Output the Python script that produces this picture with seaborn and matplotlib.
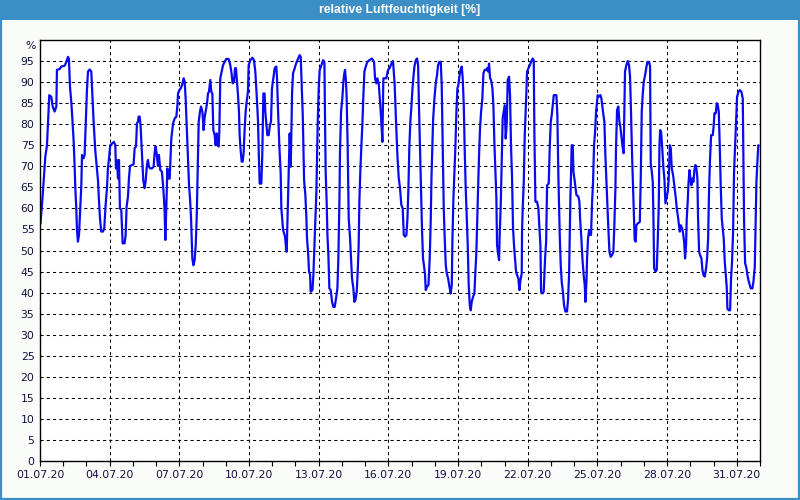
import numpy as np
import pandas as pd
import matplotlib
matplotlib.use("Agg")
import matplotlib.pyplot as plt
import matplotlib.dates as mdates
from matplotlib.patches import Rectangle
import seaborn as sns

# hours since 01.07.2020 00:00 and relative humidity [%]
hours = [
    0.5, 2.8, 4.1, 5.5, 7.2, 8.3, 9.6, 11.7, 13.1, 15.1, 16.9, 17.5, 20.3, 22.0, 25.5, 27.2, 28.9, 29.9,
    31.0, 32.4, 33.4, 34.8, 35.8, 36.5, 37.5, 38.2, 39.2, 40.3, 41.7, 42.7, 43.4, 45.1, 46.1, 47.2,
    48.5, 49.6, 51.3, 53.0, 54.1, 55.4, 57.2, 58.5, 59.9, 60.9, 62.0, 63.3, 65.1, 66.4, 67.8, 69.2,
    70.2, 71.3, 72.6, 74.4, 76.4, 77.8, 78.5, 79.5, 80.6, 81.6, 82.6, 84.0, 85.4, 87.4, 88.5, 89.5,
    90.9, 91.9, 93.0, 95.4, 96.7, 97.8, 99.2, 100.2, 101.2, 101.9, 103.0, 104.0, 105.4, 106.7, 108.1,
    109.1, 110.5, 111.5, 112.6, 113.9, 115.7, 117.4, 118.4, 119.5, 120.5, 121.9, 122.9, 124.3, 126.0,
    127.0,
    128.2, 128.9, 129.5, 130.6, 131.6, 132.6, 134.0, 135.7, 137.5, 139.2, 140.9, 142.0, 142.6, 144.0,
    145.4, 146.8, 148.5, 149.5, 150.5, 151.6, 153.0, 154.0, 155.0, 156.1, 156.7, 157.4, 158.5, 159.8,
    160.9, 161.9, 162.6, 163.3, 164.0, 165.3, 166.4, 167.8, 169.1, 170.2, 171.2, 172.6, 173.6, 174.6,
    176.0, 177.0, 178.1, 179.1, 180.5, 181.5, 182.6, 183.6, 184.6, 185.3, 186.3, 187.7, 189.1, 190.8,
    192.5, 194.9, 196.3, 197.7, 199.1, 200.5, 201.5, 202.5, 203.6, 204.6, 205.6, 206.3, 207.3, 208.4,
    209.4, 210.4, 211.5, 212.5, 213.5, 214.9, 215.6, 217.3, 219.4, 221.1, 222.5, 223.9, 225.3, 226.3,
    227.0, 228.7, 229.7, 230.8, 232.1, 232.8, 233.9, 234.9, 236.3, 237.6, 238.7, 239.7, 241.1, 242.5,
    244.2, 244.9, 245.9, 247.3, 248.7, 249.4, 250.4,
    251.2, 252.2, 253.2, 254.3, 254.9, 256.0, 257.0, 258.0, 259.1, 259.8, 260.5, 261.5, 263.2, 264.6,
    266.7, 268.4, 269.4, 270.4, 271.5, 272.2, 272.9, 274.2, 275.3, 275.9, 277.0, 278.0, 279.1, 279.7,
    281.5, 282.5, 283.5, 284.6, 285.6, 286.3, 287.0, 288.0, 289.0, 290.8, 292.5, 293.9, 294.5, 295.2,
    296.3, 297.0, 298.0, 299.0, 300.4, 301.8, 303.1, 304.5, 305.9, 307.3, 308.3, 309.4, 310.0, 311.1,
    312.4, 313.5, 314.2, 315.2, 316.2, 316.9, 318.0, 319.0, 320.4, 321.4, 322.4, 323.8, 324.8, 325.9,
    327.3, 328.3, 329.3, 330.0, 331.0, 332.1, 333.1, 334.1, 335.2, 336.6, 338.3, 340.3, 343.1, 345.2,
    346.2, 347.6, 348.6, 350.0, 351.4, 352.7, 353.8, 354.8, 356.2, 357.9, 359.6, 361.3, 363.1, 364.8,
    366.5, 367.9, 369.3, 370.6, 372.0, 373.4,
    374.8, 375.9, 377.3, 378.6, 379.7, 380.7, 381.7, 382.8, 383.8, 384.8, 385.9, 386.9, 388.3, 389.6,
    390.7, 391.7, 392.7, 393.8, 394.8, 395.8, 396.9, 397.9, 398.6, 400.0, 401.4, 402.7, 403.8, 404.5,
    405.5, 406.2, 407.6, 408.9, 410.3, 411.3, 412.7, 414.1, 415.1, 416.2, 417.2, 418.2, 419.3, 420.3,
    421.7, 423.1, 424.4, 425.5, 426.2, 427.2, 428.2, 429.2, 430.3, 431.3, 432.3, 433.4, 434.4, 435.8,
    436.8, 437.9, 438.9, 439.9, 441.0, 442.0, 443.0, 444.1, 445.1, 446.1, 447.5, 448.9, 449.9, 450.9,
    452.0, 452.7, 453.7, 454.7, 455.8, 457.1, 458.2, 459.5, 460.9, 462.0, 463.0, 464.0, 465.1, 466.1,
    467.5, 468.5, 469.5, 470.6, 471.6, 472.3, 473.3, 474.4, 475.0, 476.1, 477.1, 478.1, 479.2, 480.2,
    481.2, 482.3, 483.3, 484.7, 485.7, 486.7, 487.8, 488.8, 489.8, 490.9, 491.9, 492.9, 494.3, 495.4,
    496.4, 497.8,
    498.1, 498.8, 499.9, 500.9, 502.3, 503.3, 504.7, 506.1, 507.4, 509.2, 510.2, 510.9, 511.9, 513.6,
    515.0, 516.0, 517.1, 517.8, 519.1, 520.5, 521.9, 523.0, 524.0, 525.7, 526.7, 527.8, 528.8, 529.8,
    530.9, 533.6, 534.6, 535.7, 537.1, 538.1, 539.1, 540.5, 541.5, 542.9, 544.6, 545.7, 546.7, 547.4,
    548.1, 548.8, 549.4, 550.5, 551.2, 552.2, 553.2, 554.3, 556.3, 557.4, 558.1, 559.4, 560.5, 561.8,
    562.9, 563.6, 564.6, 565.3, 566.3, 567.4, 568.4, 569.4, 570.5, 571.5, 572.5, 573.5, 574.6, 575.6,
    576.3, 577.3, 579.1, 580.1, 581.1, 582.2, 583.2, 584.2, 585.3, 586.3, 587.3, 588.4, 589.7, 591.1,
    592.5, 593.5, 594.6, 595.2, 596.3, 597.6, 598.7, 599.7, 600.7, 601.8, 603.1, 603.8, 604.5, 605.9,
    607.3, 608.7, 609.7, 610.7, 611.8, 612.8, 613.8, 614.5, 615.6, 616.2, 617.6,
    619.8, 620.8, 621.8, 622.9, 623.9, 625.3, 626.7, 627.7, 629.4, 630.4, 631.1, 632.2, 633.2, 633.9,
    634.6, 636.0, 637.3, 638.4, 639.4, 640.1, 640.8, 641.8, 642.8, 644.2, 645.2, 646.3, 647.7, 648.7,
    649.7, 650.8, 651.8, 652.8, 654.2, 655.6, 657.0, 658.0, 659.0, 660.1, 661.1, 662.1, 663.5, 664.5,
    665.6, 666.6, 667.6, 668.3, 669.3, 670.0, 671.1, 672.1, 673.1, 674.2, 675.2, 676.2, 677.3, 678.3,
    679.3, 680.0, 681.1, 682.1, 683.5, 684.5, 685.5, 686.9, 688.3, 689.3, 690.4, 691.4, 692.4, 693.5,
    695.2, 696.2, 696.9, 698.3, 699.3, 700.3, 701.4, 702.4, 703.4, 704.5, 705.5, 706.5, 707.6, 708.6,
    709.6, 710.3, 711.7, 713.1, 714.1, 715.1, 716.2, 717.2, 718.2, 719.3, 720.3, 721.7, 723.1, 724.8,
    726.2, 726.9, 727.5, 728.6, 730.0, 731.0, 732.0, 733.4, 734.4, 736.2, 737.2, 738.6, 739.6, 740.3,
    741.3, 742.3,
]
humidity = [
    56.4, 63.2, 67.5, 72.3, 75.0, 80.7, 86.9, 86.5, 84.2, 83.0, 84.2, 92.9, 93.1, 93.7, 93.9, 94.8, 96.0, 95.5,
    88.9, 85.0, 81.4, 75.8, 69.9, 64.8, 60.0, 54.9, 52.1, 53.7, 60.8, 65.5, 72.7, 71.9, 72.7, 79.8,
    88.1, 92.5, 93.0, 92.5, 86.9, 80.6, 73.5, 70.3, 66.7, 62.0, 57.6, 54.5, 54.5, 55.3, 60.8, 64.8,
    69.5, 71.9, 75.0, 75.4, 75.8, 75.0, 69.5, 71.5, 67.1, 71.5, 60.0, 59.6, 51.7, 51.7, 53.7, 60.4,
    62.8, 67.1, 70.1, 70.3, 70.5, 74.3, 74.7, 80.2, 80.6, 81.8, 81.8, 79.4, 72.7, 66.7, 64.8,
    66.3, 70.3, 71.5, 69.9, 69.5, 69.5, 69.9, 73.1, 74.7, 73.1, 70.1, 72.7, 69.1, 68.7,
    65.9,
    62.0, 58.4, 52.5, 60.8, 69.5, 67.1, 67.1, 76.6, 80.2, 81.4, 81.8, 84.5, 87.3, 88.1,
    88.5, 89.3, 90.9, 90.1, 86.1, 79.8, 71.9, 65.5, 62.4, 57.6, 52.9, 48.1, 46.5, 47.7,
    51.3, 57.6, 65.5, 72.7, 80.6, 83.0, 84.2, 83.0, 78.6, 81.8, 83.0, 85.0, 87.3, 87.7,
    90.5, 87.7, 87.3, 78.6, 77.4, 75.0, 77.8, 75.0, 74.7, 78.2, 90.9, 92.5, 94.0, 94.8,
    95.5, 95.5, 94.4, 92.5, 89.7, 90.1, 93.3, 93.3, 90.1, 86.9, 83.0, 77.4, 73.9, 71.1,
    71.1, 73.1, 79.0, 83.0, 85.3, 87.7, 94.0, 95.2, 95.8, 95.2, 92.5, 86.9, 80.6, 71.1,
    65.9, 65.9, 72.7, 87.3, 87.3, 83.0, 80.2, 77.4, 77.4, 79.8, 80.6, 88.5, 90.9, 93.3,
    93.7, 90.9, 83.8, 75.0, 68.3, 60.0, 57.2,
    54.9, 54.1, 53.3, 50.5, 49.7, 60.0, 69.1, 77.8, 69.9, 79.4, 87.7, 92.1, 93.3, 94.4,
    95.6, 96.4, 96.0, 89.7, 82.2, 75.0, 66.7, 63.2, 57.6, 52.9, 49.7, 45.0, 44.2, 40.2,
    40.6, 44.2, 50.5, 56.8, 64.0, 72.7, 80.6, 88.5, 92.9, 94.0, 95.2, 94.8, 81.4, 68.7,
    60.8, 53.7, 48.9, 41.0, 40.6, 37.8, 36.6, 36.6, 38.6, 41.0, 48.1, 62.0, 73.5, 83.0,
    86.1, 90.1, 91.7, 92.9, 90.1, 86.1, 73.5, 57.6, 52.9, 48.1, 43.4, 41.0, 37.8, 38.2,
    40.2, 45.0, 51.3, 61.6, 68.7, 75.0, 79.8, 86.5, 92.5, 93.7, 94.8, 95.2, 95.6, 94.8,
    90.9, 89.7, 90.9, 89.7, 85.3, 80.6, 75.8, 90.9, 90.9, 90.9, 92.9, 93.3, 94.4, 95.0,
    89.3, 80.6, 72.7, 67.5, 64.8, 60.8,
    60.0, 53.7, 53.3, 53.7, 57.6, 64.8, 75.0, 81.0, 84.2, 88.1, 91.3, 93.7, 95.2, 95.6,
    94.0, 83.4, 74.3, 64.8, 54.5, 48.1, 46.2, 44.2, 40.6, 41.4, 41.8, 48.1, 57.6, 67.1,
    75.0, 81.0, 86.1, 89.7, 91.7, 94.0, 94.8, 94.8, 89.3, 73.5, 60.0, 52.9, 46.5, 44.6,
    43.4, 41.4, 39.8, 41.8, 52.9, 62.4, 68.7, 74.3, 83.0, 88.5, 89.3, 91.3, 92.9, 93.7,
    90.9, 84.5, 73.5, 64.8, 57.6, 51.3, 41.8, 37.0, 35.8, 37.8, 39.0, 39.8, 45.0, 49.5,
    59.2, 64.8, 72.7, 79.0, 83.0, 86.1, 92.1, 92.9, 92.9, 93.3, 92.5, 94.4, 90.9, 90.5,
    88.5, 84.5, 75.8, 68.7, 62.4, 51.3, 49.3, 47.7, 53.7, 60.8, 71.1, 81.4, 83.0, 84.5,
    76.6, 80.2, 90.5, 91.3, 86.9, 75.0, 67.1, 55.3, 51.3, 48.1, 45.0, 44.2, 43.4, 40.6,
    42.8, 44.6,
    54.5, 60.0, 66.3, 77.4, 85.7, 92.5, 93.3, 94.0, 94.8, 95.6, 95.2, 77.4, 61.6, 61.6,
    60.0, 55.6, 51.3, 40.2, 39.8, 40.2, 48.1, 52.1, 65.5, 65.9, 74.3, 80.6, 82.2, 84.5,
    86.9, 86.9, 82.2, 67.1, 53.3, 46.5, 42.6, 39.8, 37.0, 35.5, 35.5, 38.6, 44.2, 52.9,
    62.8, 68.7, 75.0, 75.0, 68.7, 67.1, 65.2, 63.2, 62.8, 61.6, 57.6, 52.9, 48.1, 44.2,
    41.8, 37.8, 42.2, 48.1, 52.9, 54.9, 53.7, 53.7, 61.6, 66.3, 75.0, 77.8, 83.0, 85.3,
    86.9, 86.5, 86.9, 86.1, 84.2, 82.2, 80.6, 72.7, 66.3, 60.8, 55.3, 49.7, 48.5, 48.9,
    49.7, 56.0, 64.8, 74.3, 83.4, 84.2, 80.6, 79.4, 77.4, 75.0, 73.1, 83.0, 92.5, 94.0,
    95.0, 94.0, 91.3, 83.0, 72.7, 65.5, 57.6, 52.5, 52.1, 56.0, 56.4,
    56.8, 67.5, 83.0, 87.3, 90.1, 91.7, 93.7, 94.8, 94.8, 93.7, 70.6, 68.7, 66.3, 57.6,
    45.8, 45.0, 45.4, 52.9, 60.8, 75.0, 78.6, 78.2, 75.0, 69.5, 67.1, 61.2, 62.8, 64.0,
    67.1, 75.0, 74.3, 69.5, 67.9, 65.2, 62.4, 60.0, 58.4, 56.4, 54.5, 56.0, 55.3, 54.1,
    52.1, 48.1, 51.3, 57.6, 61.6, 65.5, 69.1, 67.1, 65.5, 67.1, 66.3, 69.1, 70.3, 69.5,
    67.1, 57.6, 49.7, 48.9, 48.1, 45.4, 44.2, 43.8, 45.8, 48.1, 52.9, 64.8, 71.9, 77.4,
    77.4, 79.8, 82.6, 82.6, 85.0, 84.6, 83.0, 75.0, 65.5, 57.6, 55.3, 52.9, 47.3, 44.2,
    41.4, 36.2, 35.8, 35.8, 43.4, 47.3, 54.5, 68.7, 74.3, 80.2, 86.5, 87.7, 88.1, 87.7,
    86.1, 71.9, 57.6, 47.0, 45.8, 44.2, 43.0, 41.8, 41.0, 41.0, 42.6, 46.1, 57.6, 66.3,
    71.1, 75.0,
]
y_ticks = list(range(0, 100, 5))
x_tick_days = list(range(1, 32, 3))  # 01.07 ... 31.07
title = "relative Luftfeuchtigkeit [%]"
unit = "%"

start = pd.Timestamp("2020-07-01")
end = pd.Timestamp("2020-08-01")
df = pd.DataFrame({
    "time": start + pd.to_timedelta(hours, unit="h"),
    "rh": humidity,
})
major_dates = [pd.Timestamp(2020, 7, d) for d in x_tick_days]
minor_dates = list(pd.date_range(start, end, freq="D"))

sns.set_theme(style="white")
plt.rcParams["font.family"] = ["DejaVu Sans"]

bg = "#fafcfa"
blue = "#3c8fc6"
fig = plt.figure(figsize=(8, 5), dpi=100, facecolor=bg)

# title bar and outer frame
fig.patches.append(Rectangle((0, 0.96), 1, 0.04, transform=fig.transFigure,
                             facecolor=blue, edgecolor="none", zorder=0))
fig.patches.append(Rectangle((0.0015, 0.002), 0.997, 0.996, transform=fig.transFigure,
                             facecolor="none", edgecolor=blue, linewidth=1.6, zorder=5))
fig.text(0.5, 0.979, title, color="white", ha="center", va="center",
         fontsize=8.8, fontweight="bold", family=["Liberation Sans"])

ax = fig.add_axes([0.05, 0.078, 0.9, 0.842])
ax.set_facecolor("white")
sns.lineplot(data=df, x="time", y="rh", ax=ax, color="#0a0af0", linewidth=1.6)

ax.set_xlim(start, end)
ax.set_ylim(0, 100)
ax.set_yticks(y_ticks)
ax.set_xlabel("")
ax.set_ylabel("")

ax.set_xticks(mdates.date2num(major_dates))
ax.set_xticks(mdates.date2num(minor_dates), minor=True)
ax.xaxis.set_major_formatter(mdates.DateFormatter("%d.%m.%y"))

ax.grid(True, which="major", color="black", linestyle=(0, (3, 3)), linewidth=0.75)
ax.grid(False, which="minor")
ax.tick_params(axis="x", which="both", direction="out", length=3.5, width=0.8,
               color="black", labelsize=7.8, labelcolor="#101040", pad=3, bottom=True)
ax.tick_params(axis="y", which="both", length=0, labelsize=7.8, labelcolor="#101040", pad=4)
for sp in ax.spines.values():
    sp.set_color("black")
    sp.set_linewidth(1.0)
    sp.set_visible(True)

fig.text(31 / 800, 1 - 46 / 500, unit, ha="center", va="center", fontsize=7.8, color="#101040")

fig.savefig("out.png", dpi=100, facecolor=bg)
